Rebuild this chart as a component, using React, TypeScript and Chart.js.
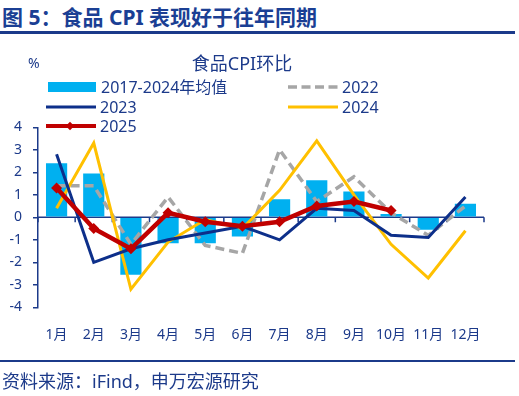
import React, { useEffect, useRef } from "react";
import { Chart, registerables } from "chart.js";

Chart.register(...registerables);

const months = ["1月", "2月", "3月", "4月", "5月", "6月", "7月", "8月", "9月", "10月", "11月", "12月"];
const avg2017to2024 = [2.4, 1.95, -2.55, -1.15, -1.15, -0.85, 0.8, 1.65, 1.15, 0.15, -0.55, 0.6];
const y2022 = [1.4, 1.4, -1.2, 0.9, -1.25, -1.6, 3.0, 0.7, 1.8, 0.2, -0.8, 0.5];
const y2023 = [2.8, -2.0, -1.4, -1.0, -0.7, -0.4, -1.0, 0.4, 0.3, -0.8, -0.9, 0.9];
const y2024 = [0.4, 3.3, -3.2, -1.1, -0.1, -0.5, 1.2, 3.4, 1.0, -1.2, -2.7, -0.6];
const y2025 = [1.3, -0.5, -1.4, 0.2, -0.2, -0.4, -0.2, 0.5, 0.7, 0.3];
const yTicks = [4, 3, 2, 1, 0, -1, -2, -3, -4];

const NAVY = "#1c3a8a";
const FONT = '"Noto Sans", "Noto Sans CJK SC", sans-serif';
const C_BAR = "#00b0f0";
const C_2022 = "#a6a6a6";
const C_2023 = "#0d2f8a";
const C_2024 = "#ffc000";
const C_2025 = "#c00000";

const zeroAxisPlugin = {
  id: "zeroAxis",
  beforeDatasetsDraw(chart: any) {
    const { ctx, chartArea, scales } = chart;
    const y0 = scales.y.getPixelForValue(0);
    const x = scales.x;
    ctx.save();
    ctx.strokeStyle = NAVY;
    ctx.lineWidth = 1.5;
    ctx.beginPath();
    ctx.moveTo(chartArea.left, y0);
    ctx.lineTo(chartArea.right, y0);
    const n = months.length;
    for (let i = 0; i <= n; i++) {
      const px = i < n ? x.getPixelForValue(i) - (x.getPixelForValue(1) - x.getPixelForValue(0)) / 2 : chartArea.right;
      ctx.moveTo(px, y0);
      ctx.lineTo(px, y0 + 5);
    }
    ctx.stroke();
    ctx.restore();
  },
};

function LegendSample({ kind, color }: { kind: string; color: string }) {
  return (
    <svg width={52} height={14} style={{ display: "block" }}>
      {kind === "bar" && <rect x={1} y={2} width={48} height={10} fill={color} />}
      {kind === "line" && <line x1={0} y1={7} x2={50} y2={7} stroke={color} strokeWidth={3} />}
      {kind === "dash" && (
        <line x1={0} y1={7} x2={50} y2={7} stroke={color} strokeWidth={3.5} strokeDasharray="9 4.5" />
      )}
      {kind === "marker" && (
        <g>
          <line x1={0} y1={7} x2={50} y2={7} stroke={color} strokeWidth={4} />
          <rect x={21} y={4} width={6} height={6} fill={color} transform="rotate(45 24 7)" />
        </g>
      )}
    </svg>
  );
}

const legendItems = [
  { label: "2017-2024年均值", kind: "bar", color: C_BAR, left: 47, top: 86.7 },
  { label: "2022", kind: "dash", color: C_2022, left: 288, top: 86.7 },
  { label: "2023", kind: "line", color: C_2023, left: 46, top: 106.5 },
  { label: "2024", kind: "line", color: C_2024, left: 288, top: 106.5 },
  { label: "2025", kind: "marker", color: C_2025, left: 46, top: 126 },
];

export default function App() {
  const ref = useRef<HTMLCanvasElement>(null);

  useEffect(() => {
    if (!ref.current) return;
    const chart = new Chart(ref.current, {
      type: "bar",
      data: {
        labels: months,
        datasets: [
          {
            type: "line",
            label: "2025",
            data: y2025,
            borderColor: C_2025,
            backgroundColor: C_2025,
            borderWidth: 4.5,
            pointStyle: "rectRot",
            pointRadius: 5.5,
            pointBorderWidth: 0,
            tension: 0,
            order: 0,
          } as any,
          {
            type: "line",
            label: "2023",
            data: y2023,
            borderColor: C_2023,
            borderWidth: 3,
            pointRadius: 0,
            tension: 0,
            order: 1,
          },
          {
            type: "line",
            label: "2024",
            data: y2024,
            borderColor: C_2024,
            borderWidth: 3,
            pointRadius: 0,
            tension: 0,
            order: 2,
          },
          {
            type: "line",
            label: "2022",
            data: y2022,
            borderColor: C_2022,
            borderWidth: 3.5,
            borderDash: [9, 5],
            pointRadius: 0,
            tension: 0,
            order: 3,
          },
          {
            type: "bar",
            label: "2017-2024年均值",
            data: avg2017to2024,
            backgroundColor: C_BAR,
            categoryPercentage: 1,
            barPercentage: 0.57,
            order: 4,
          },
        ],
      },
      options: {
        responsive: false,
        animation: false,
        layout: { padding: { left: 8, right: 35, top: 127.3, bottom: 48.7 } },
        plugins: { legend: { display: false }, tooltip: { enabled: false }, title: { display: false } },
        scales: {
          x: {
            grid: { display: false },
            border: { display: false },
            ticks: { color: NAVY, font: { family: FONT, size: 14 }, padding: 11, maxRotation: 0, autoSkip: false },
            afterFit: (s: any) => {
              s.height = 40;
            },
          },
          y: {
            min: -4,
            max: 4,
            afterBuildTicks: (s: any) => {
              s.ticks = yTicks.map((v) => ({ value: v }));
            },
            grid: { drawOnChartArea: false, drawTicks: true, tickLength: 5, color: NAVY, lineWidth: 1.5 },
            border: { display: true, color: NAVY, width: 1.5 },
            ticks: { color: NAVY, font: { family: FONT, size: 14 }, padding: 11 },
            afterFit: (s: any) => {
              s.width = 30;
            },
          },
        },
      },
      plugins: [zeroAxisPlugin],
    });
    return () => chart.destroy();
  }, []);

  return (
    <div
      style={{
        position: "fixed",
        left: 0,
        top: 0,
        width: 519,
        height: 396,
        background: "#fff",
        fontFamily: FONT,
        color: NAVY,
        overflow: "hidden",
      }}
    >
      <div
        style={{
          position: "absolute",
          left: 2,
          top: 4,
          fontSize: 21,
          lineHeight: "26px",
          fontWeight: 700,
          color: "#1b3f94",
          whiteSpace: "nowrap",
        }}
      >
        图 5：食品 CPI 表现好于往年同期
      </div>
      <div style={{ position: "absolute", left: 0, top: 31, width: 515, height: 2.5, background: "#1b3a8a" }} />
      <canvas ref={ref} width={519} height={396} style={{ position: "absolute", left: 0, top: 0 }} />
      <div style={{ position: "absolute", left: 28, top: 53, fontSize: 14, lineHeight: "20px" }}>%</div>
      <div
        style={{
          position: "absolute",
          left: 142,
          width: 200,
          top: 51,
          textAlign: "center",
          fontSize: 18,
          lineHeight: "24px",
          whiteSpace: "nowrap",
        }}
      >
        食品CPI环比
      </div>
      {legendItems.map((it) => (
        <div
          key={it.label}
          style={{
            position: "absolute",
            left: it.left,
            top: it.top - 11,
            height: 22,
            display: "flex",
            alignItems: "center",
            fontSize: 16,
            lineHeight: "22px",
            whiteSpace: "nowrap",
          }}
        >
          <LegendSample kind={it.kind} color={it.color} />
          <span style={{ marginLeft: 2 }}>{it.label}</span>
        </div>
      ))}
      <div style={{ position: "absolute", left: 0, top: 360, width: 515, height: 1.5, background: "#1b3a8a" }} />
      <div
        style={{
          position: "absolute",
          left: 2,
          top: 369,
          fontSize: 18,
          lineHeight: "24px",
          whiteSpace: "nowrap",
        }}
      >
        资料来源：iFind，申万宏源研究
      </div>
    </div>
  );
}
